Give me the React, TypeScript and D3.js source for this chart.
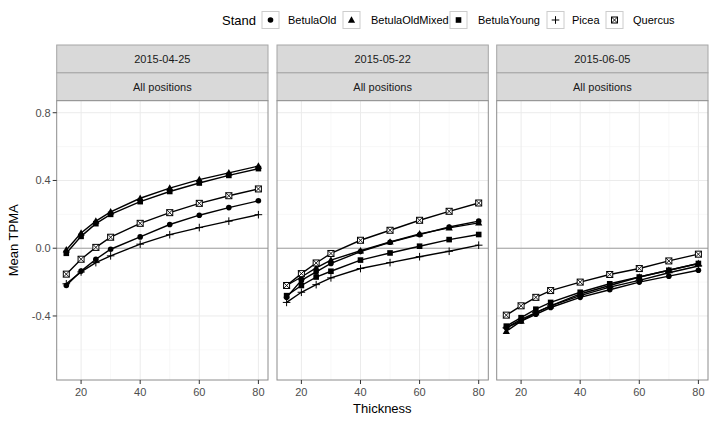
import React from "react";
import * as d3 from "d3";

const thickness = [15, 20, 25, 30, 40, 50, 60, 70, 80];
const dates = ["2015-04-25", "2015-05-22", "2015-06-05"];
const stands = ["BetulaOld", "BetulaOldMixed", "BetulaYoung", "Picea", "Quercus"];
const yTicks = [-0.4, 0.0, 0.4, 0.8];
const yMinor = [-0.6, -0.2, 0.2, 0.6];
const xTicks = [20, 40, 60, 80];
const xMinor = [30, 50, 70];

// values per date, per stand
const d1BetulaOld = [-0.22, -0.135, -0.065, -0.006, 0.067, 0.14, 0.195, 0.24, 0.28];
const d1BetulaOldMixed = [-0.01, 0.09, 0.16, 0.215, 0.295, 0.355, 0.405, 0.445, 0.485];
const d1BetulaYoung = [-0.03, 0.07, 0.145, 0.2, 0.275, 0.335, 0.385, 0.43, 0.47];
const d1Picea = [-0.21, -0.14, -0.085, -0.045, 0.024, 0.08, 0.122, 0.16, 0.198];
const d1Quercus = [-0.153, -0.065, 0.005, 0.065, 0.147, 0.21, 0.265, 0.31, 0.35];

const d2BetulaOld = [-0.29, -0.19, -0.14, -0.09, -0.02, 0.035, 0.08, 0.125, 0.16];
const d2BetulaOldMixed = [-0.22, -0.17, -0.116, -0.07, -0.015, 0.037, 0.085, 0.12, 0.15];
const d2BetulaYoung = [-0.28, -0.22, -0.17, -0.136, -0.07, -0.028, 0.012, 0.051, 0.081];
const d2Picea = [-0.32, -0.26, -0.215, -0.175, -0.12, -0.085, -0.05, -0.018, 0.018];
const d2Quercus = [-0.22, -0.15, -0.087, -0.031, 0.047, 0.106, 0.165, 0.218, 0.267];

const d3BetulaOld = [-0.47, -0.43, -0.39, -0.35, -0.29, -0.245, -0.2, -0.165, -0.13];
const d3BetulaOldMixed = [-0.49, -0.43, -0.38, -0.34, -0.27, -0.22, -0.17, -0.13, -0.09];
const d3BetulaYoung = [-0.46, -0.41, -0.36, -0.32, -0.26, -0.21, -0.17, -0.13, -0.09];
const d3Picea = [-0.47, -0.42, -0.38, -0.34, -0.28, -0.23, -0.19, -0.145, -0.105];
const d3Quercus = [-0.395, -0.34, -0.29, -0.25, -0.2, -0.155, -0.12, -0.075, -0.035];

const panelData: number[][][] = [
  [d1BetulaOld, d1BetulaOldMixed, d1BetulaYoung, d1Picea, d1Quercus],
  [d2BetulaOld, d2BetulaOldMixed, d2BetulaYoung, d2Picea, d2Quercus],
  [d3BetulaOld, d3BetulaOldMixed, d3BetulaYoung, d3Picea, d3Quercus],
];

const FONT = "'Liberation Sans', Arial, sans-serif";
const W = 709;
const H = 422;
const panelLefts = [56.7, 277, 496.7];
const panelW = 211.3;
const stripTop = 45;
const stripH = 27.85;
const panelTop = 100.7;
const panelBottom = 380;

function Marker({ shape, x, y }: { shape: number; x: number; y: number }) {
  if (shape === 0) return <circle cx={x} cy={y} r={2.8} fill="black" />;
  if (shape === 1) {
    const s = 3.8;
    return (
      <path
        d={`M${x},${y - s}L${x + s * 0.95},${y + s * 0.7}L${x - s * 0.95},${y + s * 0.7}Z`}
        fill="black"
      />
    );
  }
  if (shape === 2) return <rect x={x - 2.8} y={y - 2.8} width={5.6} height={5.6} fill="black" />;
  if (shape === 3)
    return (
      <path
        d={`M${x - 3.8},${y}H${x + 3.8}M${x},${y - 3.8}V${y + 3.8}`}
        stroke="black"
        strokeWidth={1}
        fill="none"
      />
    );
  return (
    <g>
      <rect x={x - 3} y={y - 3} width={6} height={6} fill="white" stroke="black" strokeWidth={1} />
      <path
        d={`M${x - 3},${y - 3}L${x + 3},${y + 3}M${x + 3},${y - 3}L${x - 3},${y + 3}`}
        stroke="black"
        strokeWidth={0.9}
      />
    </g>
  );
}

export default function App() {
  const y = d3.scaleLinear().domain([-0.778, 0.871]).range([panelBottom, panelTop]);
  const line = (xs: d3.ScaleLinear<number, number>) =>
    d3
      .line<number>()
      .x((_, i) => xs(thickness[i]))
      .y((v) => y(v));

  const legendKeys = [262, 343, 450, 547, 606];
  const legendLabels = [288, 371, 478, 572, 633];

  return (
    <svg
      width={W}
      height={H}
      style={{ position: "absolute", left: 0, top: 0, background: "white" }}
      fontFamily={FONT}
    >
      <rect width={W} height={H} fill="white" />
      {/* legend */}
      <text x={222} y={25} fontSize={13} fill="black">
        Stand
      </text>
      {stands.map((s, i) => (
        <g key={s}>
          <rect
            x={legendKeys[i]}
            y={11.5}
            width={17}
            height={17}
            fill="white"
            stroke="#CCCCCC"
            strokeWidth={1}
          />
          <Marker shape={i} x={legendKeys[i] + 8.5} y={20} />
          <text x={legendLabels[i]} y={24} fontSize={11} fill="black">
            {s}
          </text>
        </g>
      ))}

      {dates.map((date, p) => {
        const left = panelLefts[p];
        const x = d3.scaleLinear().domain([11.75, 83.25]).range([left, left + panelW]);
        const gen = line(x);
        return (
          <g key={date}>
            {/* strips */}
            <rect x={left} y={stripTop} width={panelW} height={stripH} fill="#D9D9D9" stroke="#A6A6A6" strokeWidth={1} />
            <text x={left + panelW / 2} y={stripTop + stripH / 2 + 4} fontSize={11} textAnchor="middle" fill="#1A1A1A">
              {date}
            </text>
            <rect x={left} y={stripTop + stripH} width={panelW} height={stripH} fill="#D9D9D9" stroke="#A6A6A6" strokeWidth={1} />
            <text x={left + panelW / 2} y={stripTop + stripH * 1.5 + 4} fontSize={11} textAnchor="middle" fill="#1A1A1A">
              All positions
            </text>
            {/* panel */}
            <rect x={left} y={panelTop} width={panelW} height={panelBottom - panelTop} fill="white" />
            {yMinor.map((t) => (
              <line key={"ym" + t} x1={left} x2={left + panelW} y1={y(t)} y2={y(t)} stroke="#F5F5F5" strokeWidth={0.7} />
            ))}
            {xMinor.map((t) => (
              <line key={"xm" + t} x1={x(t)} x2={x(t)} y1={panelTop} y2={panelBottom} stroke="#F5F5F5" strokeWidth={0.7} />
            ))}
            {yTicks.map((t) => (
              <line key={"y" + t} x1={left} x2={left + panelW} y1={y(t)} y2={y(t)} stroke="#EBEBEB" strokeWidth={1} />
            ))}
            {xTicks.map((t) => (
              <line key={"x" + t} x1={x(t)} x2={x(t)} y1={panelTop} y2={panelBottom} stroke="#EBEBEB" strokeWidth={1} />
            ))}
            <line x1={left} x2={left + panelW} y1={y(0)} y2={y(0)} stroke="#A0A0A0" strokeWidth={1.1} />
            {panelData[p].map((vals, s) => (
              <path key={"l" + s} d={gen(vals) || ""} fill="none" stroke="black" strokeWidth={1.4} />
            ))}
            {panelData[p].map((vals, s) =>
              vals.map((v, i) => <Marker key={`m${s}-${i}`} shape={s} x={x(thickness[i])} y={y(v)} />)
            )}
            <rect x={left} y={panelTop} width={panelW} height={panelBottom - panelTop} fill="none" stroke="#8C8C8C" strokeWidth={1} />
            {/* x axis */}
            {xTicks.map((t) => (
              <g key={"xt" + t}>
                <line x1={x(t)} x2={x(t)} y1={panelBottom} y2={panelBottom + 4} stroke="#333333" strokeWidth={1} />
                <text x={x(t)} y={panelBottom + 16} fontSize={11} textAnchor="middle" fill="#4D4D4D">
                  {t}
                </text>
              </g>
            ))}
            {p === 0 &&
              yTicks.map((t) => (
                <g key={"yt" + t}>
                  <line x1={left - 4} x2={left} y1={y(t)} y2={y(t)} stroke="#333333" strokeWidth={1} />
                  <text x={left - 6} y={y(t) + 4} fontSize={11} textAnchor="end" fill="#4D4D4D">
                    {t.toFixed(1)}
                  </text>
                </g>
              ))}
          </g>
        );
      })}
      <text x={(56.7 + 708) / 2} y={413} fontSize={13} textAnchor="middle" fill="black">
        Thickness
      </text>
      <text
        transform={`translate(18,${(panelTop + panelBottom) / 2}) rotate(-90)`}
        fontSize={13}
        textAnchor="middle"
        fill="black"
      >
        Mean TPMA
      </text>
    </svg>
  );
}
